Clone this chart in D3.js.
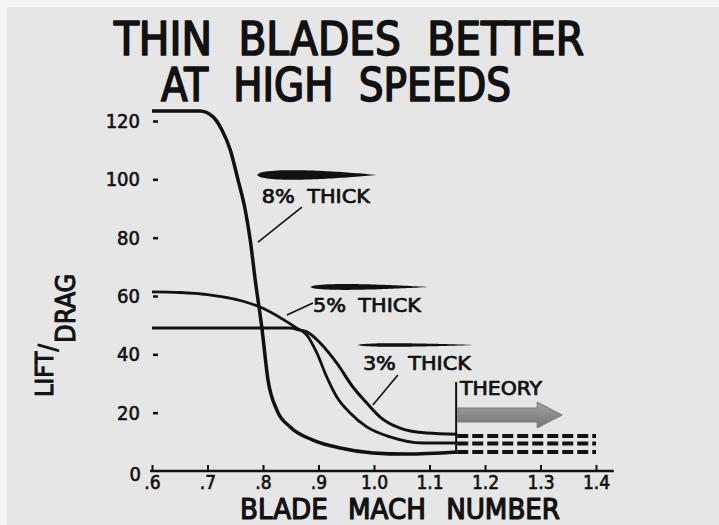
<!DOCTYPE html>
<html>
<head>
<meta charset="utf-8">
<script src="https://cdn.jsdelivr.net/npm/d3@7"></script>
<style>
  body { margin: 0; background: #f4f4f4; }
  svg { display: block; }
  text { font-family: "DejaVu Sans Condensed", "DejaVu Sans", sans-serif; fill: #111; }
  .heavy { stroke: #111; stroke-linejoin: round; }
</style>
</head>
<body>
<script>
// curves (mach number vs lift/drag)
var mach8 = [0.6, 0.686, 0.71, 0.726, 0.741, 0.755, 0.768, 0.777, 0.786, 0.798, 0.809, 0.825, 0.849, 0.89, 0.939, 0.998, 1.059, 1.15];
var ld8 = [123.4, 123.4, 121.4, 116.9, 110.1, 99.8, 89.5, 79.2, 65.5, 49.0, 31.2, 20.9, 15.1, 10.6, 7.9, 6.2, 5.8, 6.5];
var mach5 = [0.6, 0.65, 0.7, 0.764, 0.795, 0.836, 0.861, 0.879, 0.897, 0.915, 0.933, 0.957, 0.987, 1.029, 1.088, 1.15];
var ld5 = [61.4, 61.2, 60.5, 58.2, 56.2, 52.0, 49.0, 46.6, 40.5, 32.2, 25.4, 19.9, 15.1, 11.7, 9.6, 9.6];
var mach3 = [0.6, 0.849, 0.867, 0.879, 0.903, 0.933, 0.962, 0.987, 1.011, 1.047, 1.095, 1.15];
var ld3 = [49.0, 49.0, 48.3, 47.7, 43.9, 37.0, 28.8, 23.3, 18.5, 14.7, 13.0, 12.6];

// theory extension (dashed)
var theoryMach = [1.15, 1.4];
var theoryLD = [12.0, 9.4, 6.5];

// ticks
var xTicks = [0.6, 0.7, 0.8, 0.9, 1.0, 1.1, 1.2, 1.3, 1.4];
var xLabels = [".6", ".7", ".8", ".9", "1.0", "1.1", "1.2", "1.3", "1.4"];
var yTicks = [0, 20, 40, 60, 80, 100, 120];
var yLabels = ["0", "20", "40", "60", "80", "100", "120"];

// airfoil labels: thickness, label, foil start/end mach, foil L/D, text pos, leader from/to
var foilThick = [0.08, 0.05, 0.03];
var foilText = ["8% THICK", "5% THICK", "3% THICK"];
var foilMach = [[0.789, 1.005], [0.885, 1.097], [0.971, 1.182]];
var foilLD = [101.5, 63.1, 43.2];
var textPos = [[0.798, 91.9], [0.890, 54.5], [0.980, 34.6]];
var leaders = [[[0.870, 90.5], [0.791, 78.5]], [[0.890, 57.6], [0.843, 53.5]], [[1.043, 32.9], [0.998, 22.6]]];

var width = 719, height = 525;

var x = d3.scaleLinear().domain([0.6, 1.4]).range([152, 596]);
var y = d3.scaleLinear().domain([0, 120]).range([471, 121]);

var svg = d3.select("body").append("svg")
    .attr("width", width)
    .attr("height", height);

// photo background
svg.append("rect")
    .attr("x", 7).attr("y", 7)
    .attr("width", width - 7).attr("height", height - 7)
    .attr("fill", "#e6e6e6");

var defs = svg.append("defs");
var grad = defs.append("linearGradient")
    .attr("id", "arrowGrad")
    .attr("x1", 0).attr("y1", 0).attr("x2", 0).attr("y2", 1);
grad.append("stop").attr("offset", "0%").attr("stop-color", "#a0a0a0");
grad.append("stop").attr("offset", "100%").attr("stop-color", "#767676");

// title
svg.append("text")
    .attr("class", "heavy")
    .attr("x", 349).attr("y", 55)
    .attr("text-anchor", "middle")
    .attr("font-size", 47)
    .attr("stroke-width", 1.7)
    .attr("textLength", 470)
    .attr("lengthAdjust", "spacingAndGlyphs")
    .attr("word-spacing", 14)
    .text("THIN BLADES BETTER");
svg.append("text")
    .attr("class", "heavy")
    .attr("x", 336).attr("y", 101)
    .attr("text-anchor", "middle")
    .attr("font-size", 47)
    .attr("stroke-width", 1.7)
    .attr("textLength", 350)
    .attr("lengthAdjust", "spacingAndGlyphs")
    .attr("word-spacing", 14)
    .text("AT HIGH SPEEDS");

// x axis
var xAxis = d3.axisBottom(x)
    .tickValues(xTicks)
    .tickFormat(function(d, i) { return xLabels[i]; })
    .tickSizeInner(-6)
    .tickSizeOuter(0)
    .tickPadding(4);

var gx = svg.append("g")
    .attr("transform", "translate(0," + y(0) + ")")
    .call(xAxis);
gx.select(".domain").remove();
gx.selectAll(".tick line").attr("stroke", "#111").attr("stroke-width", 2);
gx.selectAll(".tick text")
    .attr("class", "heavy")
    .attr("stroke-width", 0.6)
    .attr("font-size", 19)
    .attr("fill", "#111");

svg.append("line")
    .attr("x1", x(0.6) - 2).attr("x2", x(1.432))
    .attr("y1", y(0)).attr("y2", y(0))
    .attr("stroke", "#111")
    .attr("stroke-width", 2.5);

// y axis
var yAxis = d3.axisLeft(y)
    .tickValues(yTicks)
    .tickFormat(function(d, i) { return yLabels[i]; })
    .tickSizeInner(5)
    .tickSizeOuter(0)
    .tickPadding(13);

var gy = svg.append("g")
    .attr("transform", "translate(" + (x(0.6) + 6) + ",0)")
    .call(yAxis);
gy.select(".domain").remove();
gy.selectAll(".tick line").attr("stroke", "#111").attr("stroke-width", 2.5);
gy.selectAll(".tick text")
    .attr("class", "heavy")
    .attr("stroke-width", 0.6)
    .attr("font-size", 20)
    .attr("fill", "#111");
gy.selectAll(".tick").filter(function(d) { return d === 0; })
    .select("text").attr("dy", "0.45em").attr("x", -17);
gy.selectAll(".tick").filter(function(d) { return d === 0; })
    .select("line").remove();

// axis titles
svg.append("text")
    .attr("class", "heavy")
    .attr("x", 400).attr("y", 519)
    .attr("text-anchor", "middle")
    .attr("font-size", 29)
    .attr("stroke-width", 1.2)
    .attr("textLength", 320)
    .attr("lengthAdjust", "spacingAndGlyphs")
    .attr("word-spacing", 12)
    .text("BLADE MACH NUMBER");

var ylab = svg.append("text")
    .attr("class", "heavy")
    .attr("transform", "translate(53,397) rotate(-90)")
    .attr("font-size", 25)
    .attr("stroke-width", 1);
ylab.append("tspan").text("LIFT");
ylab.append("tspan").attr("dy", 3).text("/");
ylab.append("tspan").attr("dy", 19).attr("dx", 1).attr("font-size", 27).text("DRAG");

// curves
var line = d3.line()
    .x(function(d) { return x(d[0]); })
    .y(function(d) { return y(d[1]); })
    .curve(d3.curveMonotoneX);

var curves = [[mach8, ld8, 3.5], [mach5, ld5, 2.8], [mach3, ld3, 3]];
curves.forEach(function(c) {
  svg.append("path")
      .datum(d3.zip(c[0], c[1]))
      .attr("fill", "none")
      .attr("stroke", "#111")
      .attr("stroke-width", c[2])
      .attr("stroke-linejoin", "round")
      .attr("d", line);
});

// theory dashed lines
theoryLD.forEach(function(v) {
  svg.append("line")
      .attr("x1", x(theoryMach[0])).attr("x2", x(theoryMach[1]))
      .attr("y1", y(v)).attr("y2", y(v))
      .attr("stroke", "#111")
      .attr("stroke-width", 4)
      .attr("stroke-dasharray", "11,4");
});

// theory marker, label and arrow
svg.append("line")
    .attr("x1", x(1.148)).attr("x2", x(1.148))
    .attr("y1", y(30.5)).attr("y2", y(6.0))
    .attr("stroke", "#111")
    .attr("stroke-width", 2);

svg.append("text")
    .attr("class", "heavy")
    .attr("x", x(1.155)).attr("y", y(26))
    .attr("font-size", 19)
    .attr("stroke-width", 0.7)
    .attr("textLength", 82)
    .attr("lengthAdjust", "spacingAndGlyphs")
    .text("THEORY");

var ac = y(19.2);
var arrow = d3.path();
arrow.moveTo(x(1.151), ac - 7);
arrow.lineTo(x(1.294), ac - 7);
arrow.lineTo(x(1.294), ac - 13);
arrow.lineTo(x(1.339), ac);
arrow.lineTo(x(1.294), ac + 13);
arrow.lineTo(x(1.294), ac + 7);
arrow.lineTo(x(1.151), ac + 7);
arrow.closePath();
svg.append("path")
    .attr("d", arrow.toString())
    .attr("fill", "url(#arrowGrad)")
    .attr("stroke", "#7a7a7a")
    .attr("stroke-width", 1);

// airfoil shapes
function foil(i) {
  var x0 = x(foilMach[i][0]), x1 = x(foilMach[i][1]);
  var c = x1 - x0, yc = y(foilLD[i]), t = foilThick[i];
  var n = 40, top = [], bot = [];
  for (var k = 0; k <= n; k++) {
    var u = k / n;
    var h = 5 * t * c * (0.2969 * Math.sqrt(u) - 0.126 * u - 0.3516 * u * u + 0.2843 * u * u * u - 0.1036 * u * u * u * u);
    top.push([x0 + u * c, yc - h]);
    bot.push([x0 + u * c, yc + h]);
  }
  return d3.line()(top.concat(bot.reverse())) + "Z";
}

foilText.forEach(function(s, i) {
  svg.append("path")
      .attr("d", foil(i))
      .attr("fill", "#111");

  svg.append("text")
      .attr("class", "heavy")
      .attr("x", x(textPos[i][0])).attr("y", y(textPos[i][1]))
      .attr("font-size", 20)
      .attr("stroke-width", 0.7)
      .attr("textLength", 108)
      .attr("lengthAdjust", "spacingAndGlyphs")
      .attr("word-spacing", 5)
      .text(s);

  svg.append("line")
      .attr("x1", x(leaders[i][0][0])).attr("y1", y(leaders[i][0][1]))
      .attr("x2", x(leaders[i][1][0])).attr("y2", y(leaders[i][1][1]))
      .attr("stroke", "#111")
      .attr("stroke-width", 1.6);
});
</script>
</body>
</html>
